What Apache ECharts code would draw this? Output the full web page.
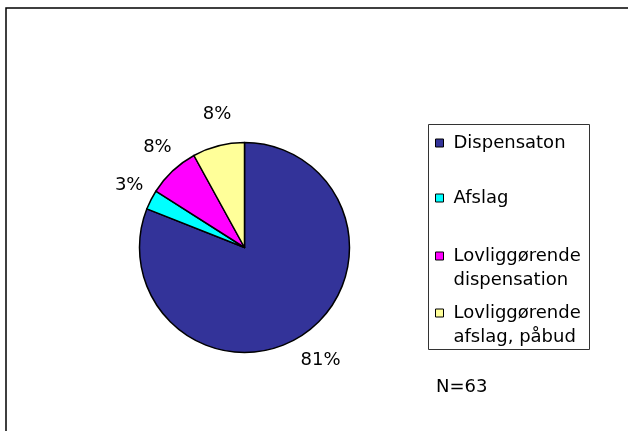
<!DOCTYPE html>
<html>
<head>
<meta charset="utf-8">
<script src="https://cdn.jsdelivr.net/npm/echarts@6/dist/echarts.min.js"></script>
<style>
html, body { margin: 0; padding: 0; background: #fff; }
#chart { width: 628px; height: 431px; }
</style>
</head>
<body>
<div id="chart"></div>
<script>
// shares in percent (N=63)
const categories = ['Dispensaton', 'Afslag', 'Lovliggørende dispensation', 'Lovliggørende afslag, påbud'];
const shares = [81, 3, 8, 8];
const sliceColors = ['#333399', '#00ffff', '#ff00ff', '#ffff99'];
const noteText = 'N=63';

const font = 'DejaVu Sans, Verdana, sans-serif';

// legend rows: y of the icon centre for each entry
const legendRowY = [143, 198, 256, 313];

// two-word names break after the first word; an empty line on top keeps
// the icon level with the first line (legend centres text on the icon)
function wrapName(name) {
  if (name.indexOf(' ') < 0) return name;
  return '\n' + name.replace(' ', '\n');
}

const legends = categories.map((name, i) => {
  const twoLines = name.indexOf(' ') >= 0;
  return {
    data: [name],
    orient: 'vertical',
    left: 435,
    top: twoLines ? legendRowY[i] - 36 : legendRowY[i] - 12,
    padding: 0,
    itemWidth: 8,
    itemHeight: 8,
    icon: 'rect',
    selectedMode: false,
    itemStyle: { borderColor: '#000', borderWidth: 1 },
    formatter: wrapName,
    textStyle: {
      fontFamily: font,
      fontSize: 18,
      color: '#000',
      lineHeight: 24,
      padding: [0, 0, 0, 5]
    }
  };
});

const chart = echarts.init(document.getElementById('chart'));

chart.setOption({
  backgroundColor: '#fff',
  animation: false,
  color: sliceColors,
  legend: legends,
  graphic: [
    {
      type: 'rect',
      shape: { x: 6, y: 8, width: 700, height: 500 },
      style: { fill: 'none', stroke: '#000', lineWidth: 1.5 },
      silent: true
    },
    {
      type: 'rect',
      shape: { x: 428.5, y: 124.5, width: 161, height: 225 },
      style: { fill: 'none', stroke: '#333', lineWidth: 1 },
      silent: true
    },
    {
      type: 'text',
      left: 436,
      top: 378,
      style: { text: noteText, font: '18px ' + font, fill: '#000' },
      silent: true
    }
  ],
  series: [
    {
      type: 'pie',
      center: [244.5, 247.5],
      radius: 105,
      startAngle: 90,
      clockwise: true,
      avoidLabelOverlap: false,
      itemStyle: { borderColor: '#000', borderWidth: 1.5 },
      emphasis: { disabled: true },
      label: {
        show: true,
        position: 'outside',
        formatter: '{c}%',
        fontFamily: font,
        fontSize: 18,
        color: '#000'
      },
      labelLine: { show: false, length: 32, length2: -26 },
      data: categories.map((name, i) => ({ name: name, value: shares[i] }))
    }
  ]
});
</script>
</body>
</html>
